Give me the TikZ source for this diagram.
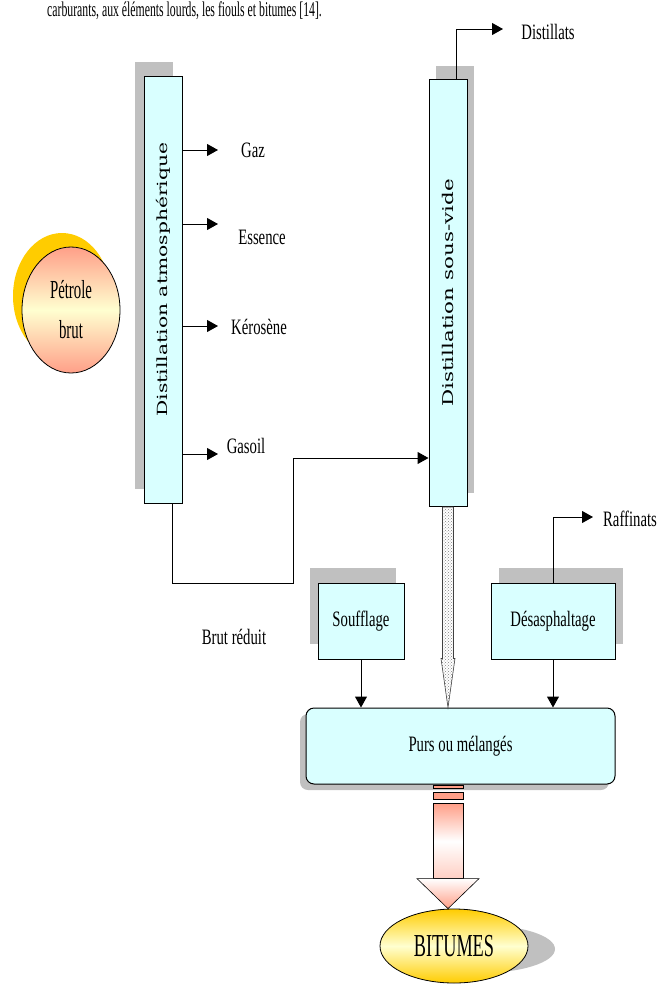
\documentclass[tikz,border=0pt]{standalone}
\usepackage{fontspec}
\setmainfont{Liberation Serif}[FakeStretch=0.67]
\newfontfamily\colfont{DejaVu Serif}[FakeStretch=1.45]
\newfontfamily\bigfont{Liberation Serif}[FakeStretch=0.57]
\newfontfamily\pagefont{Liberation Serif}[FakeStretch=0.56]
\usetikzlibrary{arrows.meta,shadows,patterns,calc,shapes.geometric,positioning}

\definecolor{boxcyan}{HTML}{D9FFFF}
\definecolor{shadegray}{HTML}{C0C0C0}
\definecolor{salmon}{HTML}{FF9F88}
\definecolor{paleyellow}{HTML}{FFFFD0}
\definecolor{gold}{HTML}{FFCC00}

\begin{document}
\begin{tikzpicture}[x=1pt,y=-1pt,
    >={Triangle[length=11pt,width=12pt]},
    box/.style={draw, line width=1pt, fill=boxcyan, inner sep=0pt},
    shadowed/.style 2 args={drop shadow={shadow xshift=#1,shadow yshift=#2,fill=shadegray,opacity=1}},
    column/.style={box, minimum width=38pt, minimum height=427pt, font=\colfont\fontsize{14}{14}\selectfont},
    unit/.style={box, minimum height=76pt, font=\fontsize{22}{24}\selectfont},
    lbl/.style={inner sep=0pt, font=\fontsize{22}{24}\selectfont},
    flow/.style={->, line width=1pt}]
    \useasboundingbox (0,0) rectangle (659,985);

    % texte de la page
    \node[anchor=base west, inner sep=0pt, font=\pagefont\fontsize{21}{21}\selectfont] (intro) at (47,16.5)
        {carburants, aux éléments lourds, les fiouls et bitumes [14].};

    % colonnes de distillation
    \node[column, shadowed={-9pt}{14pt}] (atm) at (163,289.5)
        {\rotatebox{90}{\hspace*{20pt}Distillation atmosphérique}};
    \node[column, shadowed={7pt}{14pt}, font=\colfont\fontsize{14.8}{15}\selectfont] (vide) at (448,293)
        {\rotatebox{90}{Distillation sous-vide}};

    % brut
    \node[draw, ellipse, line width=0.8pt, minimum width=98pt, minimum height=126pt, inner sep=0pt,
          top color=salmon, bottom color=salmon, middle color=paleyellow,
          drop shadow={shadow xshift=-9pt,shadow yshift=14pt,fill=gold,opacity=1},
          align=center, font=\bigfont\fontsize{26}{40}\selectfont] (petrole) at (71,310) {Pétrole\\brut};

    % coupes
    \node[lbl] (gaz) at (253,150) {Gaz};
    \node[lbl] (essence) at (262,237) {Essence};
    \node[lbl] (kero) at (259,327) {Kérosène};
    \node[lbl] (gasoil) at (246,446) {Gasoil};
    \node[lbl] (distillats) at (548,32) {Distillats};
    \node[lbl] (raffinats) at (630,519) {Raffinats};
    \node[lbl] (brut) at (234,637) {Brut réduit};

    \coordinate (gazEnd) at (218,150);
    \coordinate (essEnd) at (218,224);
    \coordinate (keroEnd) at (218,326);
    \coordinate (gasEnd) at (218,454);
    \foreach \c in {gazEnd,essEnd,keroEnd,gasEnd}
        \draw[flow] (atm.east |- \c) -- (\c);

    % traitements
    \node[unit, minimum width=86pt, shadowed={-8pt}{15pt}] (souff) at (361,621) {Soufflage};
    \node[unit, minimum width=124pt, shadowed={7.5pt}{15pt}] (desa) at (553,621) {Désasphaltage};
    \node[unit, minimum width=309pt, rounded corners=8pt, shadowed={-6pt}{-6pt}] (purs) at (460.5,746) {Purs ou mélangés};

    \coordinate (distEnd) at (503,29);
    \coordinate (rafEnd) at (593,517);
    \coordinate (bend) at (293,583);
    \draw[flow] ([xshift=8pt]vide.north) |- (distEnd);
    \draw[flow] (desa.north) |- (rafEnd);
    \draw[flow] ([xshift=9pt]atm.south) |- (bend) |- ([yshift=-165pt]vide.west);
    \draw[flow] (souff.south) -- (souff.south |- purs.north);
    \draw[flow] (desa.south) -- (desa.south |- purs.north);

    % residu sous vide
    \coordinate (tipD) at (vide.south |- purs.north);
    \draw[line width=0.6pt, draw=gray!50!black, pattern=crosshatch dots, pattern color=gray]
        ([xshift=-5.5pt]vide.south) -- ($(tipD)+(-5.5,-49)$) -- ($(tipD)+(-7,-49)$) -- (tipD)
        -- ($(tipD)+(7,-49)$) -- ($(tipD)+(5.5,-49)$) -- ([xshift=5.5pt]vide.south) -- cycle;

    % bitumes
    \fill[shadegray] (480,949) ellipse [x radius=75pt, y radius=24pt];
    \node[draw, ellipse, line width=0.8pt, minimum width=148pt, minimum height=74pt, inner sep=0pt,
          top color=gold, bottom color=gold, middle color=paleyellow,
          font=\bigfont\fontsize{32}{32}\selectfont] (bitumes) at (454,946) {BITUMES};

    \coordinate (bigTop) at ($(purs.south)+(-12.5,0)$);
    \coordinate (bigTip) at (bigTop |- bitumes.north);
    \draw[fill=salmon, line width=0.5pt] ($(bigTop)+(-15,1)$) rectangle ($(bigTop)+(15,4)$);
    \draw[fill=salmon, line width=0.5pt] ($(bigTop)+(-15,8)$) rectangle ($(bigTop)+(15,15)$);
    \draw[line width=0.6pt, top color=salmon, bottom color=salmon!50, middle color=white]
        ($(bigTop)+(-15,19)$) rectangle ($(bigTip)+(15,-30)$);
    \draw[line width=0.6pt, top color=white, bottom color=salmon]
        ($(bigTip)+(-31,-30)$) -- ($(bigTip)+(31,-30)$) -- (bigTip) -- cycle;
\end{tikzpicture}
\end{document}
